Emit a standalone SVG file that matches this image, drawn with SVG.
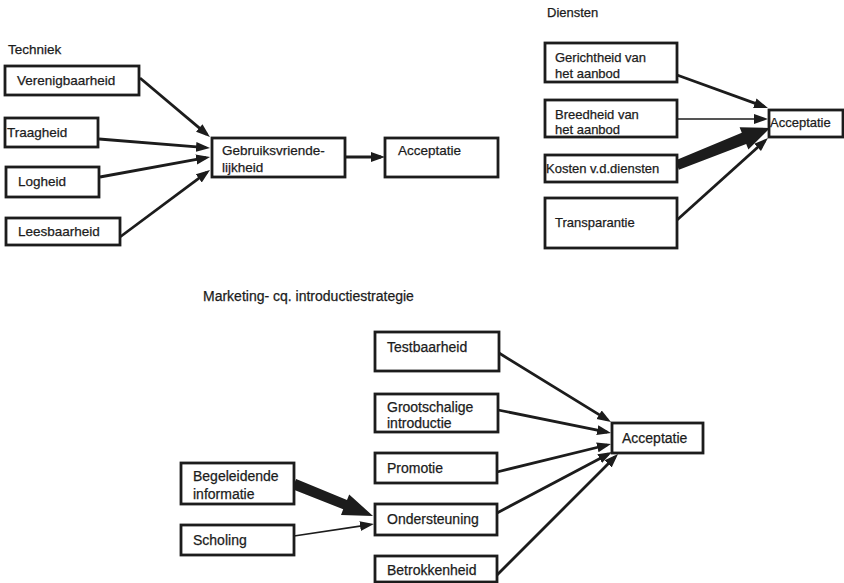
<svg xmlns="http://www.w3.org/2000/svg" width="844" height="583" viewBox="0 0 844 583">
<style>
.box{fill:#fff;stroke:#1c1c1c;stroke-width:2.8}
.t{font-family:"Liberation Sans",Arial,Helvetica,sans-serif;fill:#1c1c1c;stroke:#1c1c1c;stroke-width:0.25}
.a{font-size:13.5px}
.b{font-size:13px}
.c{font-size:14px}
.e{stroke:#1c1c1c;stroke-width:2.8;fill:none;marker-end:url(#ah)}
.thin{stroke-width:1.7}
.w{fill:#1c1c1c}
</style>
<defs>
<marker id="ah" markerUnits="userSpaceOnUse" markerWidth="16" markerHeight="12" viewBox="0 -6 16 12" refX="10" refY="0" orient="auto">
<path d="M0,-5 L14,0 L0,5 z" fill="#1c1c1c"/>
</marker>
</defs>
<rect width="844" height="583" fill="#fff"/>

<text class="t a" x="8" y="54">Techniek</text>
<text class="t b" x="547" y="17">Diensten</text>
<text class="t c" x="203" y="301">Marketing- cq. introductiestrategie</text>

<g id="connectors">
<line class="e" x1="140" y1="78" x2="206.9" y2="134.4"/>
<line class="e" x1="99" y1="139" x2="206" y2="147.7"/>
<line class="e" x1="100" y1="177" x2="206.1" y2="157.7"/>
<line class="e" x1="120" y1="237" x2="206.8" y2="172.4"/>
<line class="e" x1="345" y1="157" x2="381" y2="157"/>
<line class="e" x1="677" y1="75" x2="764.2" y2="106.6"/>
<line class="e thin" x1="677" y1="119" x2="764" y2="119"/>
<polygon class="w" points="675.2,160.4 741.8,132.8 739.6,127.2 770,128 748.4,149.6 746.2,144 678.9,169.7"/>
<line class="e" x1="677" y1="220" x2="765" y2="140.7"/>
<line class="e" x1="499" y1="353" x2="607.6" y2="419.9"/>
<line class="e" x1="498" y1="410" x2="607.1" y2="432.2"/>
<line class="e" x1="497" y1="472" x2="607.1" y2="445"/>
<line class="e" x1="497" y1="513" x2="608.5" y2="453.9"/>
<line class="e" x1="497" y1="575" x2="615.2" y2="456.8"/>
<polygon class="w" points="296.1,478.9 347,500.1 349.2,494.5 373,516 341,514.9 343.2,509.3 291.9,489.1"/>
<line class="e thin" x1="294" y1="536" x2="370" y2="524.6"/>
</g>

<g id="verenigbaarheid"><rect class="box" x="5" y="66" width="134" height="29"/><text class="t a" x="17" y="85">Verenigbaarheid</text></g>
<g id="traagheid"><rect class="box" x="5" y="118" width="93" height="29"/><text class="t a" x="7" y="137">Traagheid</text></g>
<g id="logheid"><rect class="box" x="6" y="167" width="93" height="30"/><text class="t a" x="18" y="186">Logheid</text></g>
<g id="leesbaarheid"><rect class="box" x="6" y="218" width="114" height="27"/><text class="t a" x="18" y="236">Leesbaarheid</text></g>
<g id="gebruiksvriendelijkheid"><rect class="box" x="212" y="138" width="133" height="39"/><text class="t a" x="222" y="155">Gebruiksvriende-</text><text class="t a" x="222" y="172">lijkheid</text></g>
<g id="acceptatie1"><rect class="box" x="385" y="138" width="113" height="39"/><text class="t a" x="398" y="155">Acceptatie</text></g>

<g id="gerichtheid"><rect class="box" x="545" y="43" width="132" height="39"/><text class="t b" x="555" y="62">Gerichtheid van</text><text class="t b" x="555" y="78">het aanbod</text></g>
<g id="breedheid"><rect class="box" x="545" y="100" width="132" height="37"/><text class="t b" x="555" y="119">Breedheid van</text><text class="t b" x="555" y="134">het aanbod</text></g>
<g id="kosten"><rect class="box" x="545" y="155" width="132" height="27"/><text class="t b" x="546" y="173">Kosten v.d.diensten</text></g>
<g id="transparantie"><rect class="box" x="545" y="198" width="132" height="50"/><text class="t b" x="555" y="227">Transparantie</text></g>
<g id="acceptatie2"><rect class="box" x="769" y="110" width="74" height="27"/><text class="t b" x="770" y="127">Acceptatie</text></g>

<g id="testbaarheid"><rect class="box" x="375" y="332" width="124" height="39"/><text class="t c" x="387" y="352">Testbaarheid</text></g>
<g id="grootschalige"><rect class="box" x="375" y="394" width="123" height="38"/><text class="t c" x="387" y="412">Grootschalige</text><text class="t c" x="387" y="428">introductie</text></g>
<g id="promotie"><rect class="box" x="375" y="453" width="122" height="30"/><text class="t c" x="387" y="473">Promotie</text></g>
<g id="ondersteuning"><rect class="box" x="375" y="504" width="122" height="31"/><text class="t c" x="387" y="524">Ondersteuning</text></g>
<g id="betrokkenheid"><rect class="box" x="375" y="556" width="122" height="26"/><text class="t c" x="387" y="575">Betrokkenheid</text></g>
<g id="acceptatie3"><rect class="box" x="612" y="423" width="91" height="30"/><text class="t c" x="622" y="443">Acceptatie</text></g>
<g id="begeleidende"><rect class="box" x="181" y="463" width="113" height="41"/><text class="t c" x="193" y="481">Begeleidende</text><text class="t c" x="193" y="499">informatie</text></g>
<g id="scholing"><rect class="box" x="181" y="525" width="113" height="30"/><text class="t c" x="193" y="545">Scholing</text></g>
</svg>
